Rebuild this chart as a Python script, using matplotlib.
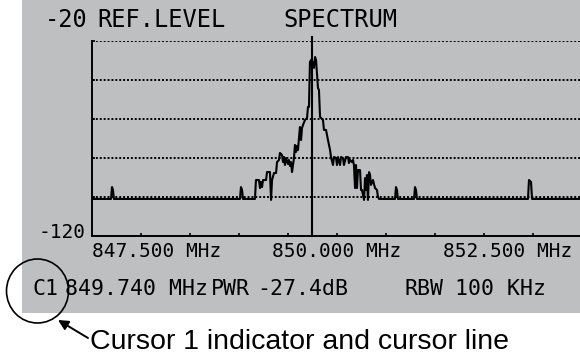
import numpy as np
import matplotlib
matplotlib.use("Agg")
import matplotlib.pyplot as plt
from matplotlib.patches import Rectangle, Ellipse, FancyArrowPatch

# spectrum trace: frequency (MHz) and level (dB), ten points per row
freq = [847.500, 847.694, 847.704, 847.714, 847.724, 849.010, 849.020, 849.031, 849.041, 849.163,
        849.173, 849.204, 849.214, 849.224, 849.235, 849.245, 849.276, 849.286, 849.316, 849.327,
        849.337, 849.357, 849.378, 849.388, 849.408, 849.418, 849.439, 849.449, 849.459, 849.469,
        849.480, 849.500, 849.510, 849.520, 849.531, 849.541, 849.551, 849.561, 849.571, 849.582,
        849.592, 849.602, 849.612, 849.622, 849.633, 849.643, 849.653, 849.673, 849.694, 849.704,
        849.714, 849.724, 849.735, 849.745, 849.755, 849.765, 849.776, 849.786, 849.806, 849.816,
        849.827, 849.857, 849.867, 849.888, 849.908, 849.929, 849.939, 849.959, 849.969, 849.990,
        850.000, 850.010, 850.031, 850.041, 850.061, 850.071, 850.092, 850.112, 850.122, 850.133,
        850.153, 850.163, 850.173, 850.184, 850.194, 850.204, 850.214, 850.235, 850.245, 850.255,
        850.276, 850.286, 850.296, 850.306, 850.316, 850.327, 850.337, 850.347, 850.367, 850.388,
        850.408, 850.418, 850.429, 850.592, 850.602, 850.612, 850.622, 850.786, 850.796, 850.806,
        850.816, 851.949, 851.959, 851.980, 851.990, 852.500]
level = [-101.0, -101.0, -94.9, -96.4, -101.0, -101.0, -94.9, -96.4, -101.0, -101.0,
         -91.3, -91.3, -95.4, -92.3, -94.9, -91.3, -91.3, -87.2, -87.2, -101.5,
         -91.3, -87.7, -87.7, -82.1, -81.0, -77.4, -78.5, -82.1, -79.5, -83.6,
         -80.0, -83.1, -81.0, -84.1, -82.1, -87.2, -83.6, -80.0, -73.3, -76.9,
         -73.8, -75.9, -69.7, -64.1, -70.8, -64.6, -63.1, -60.5, -59.5, -53.8,
         -53.8, -30.8, -29.7, -32.3, -30.8, -33.8, -28.2, -29.7, -44.1, -45.1,
         -59.0, -60.5, -65.6, -65.6, -70.8, -75.9, -79.5, -83.6, -79.5, -80.0,
         -83.6, -79.5, -83.6, -79.5, -80.0, -83.6, -79.5, -79.5, -82.6, -81.0,
         -82.1, -81.0, -83.6, -95.4, -83.6, -95.4, -86.2, -86.2, -96.4, -96.4,
         -101.5, -90.3, -96.4, -88.7, -101.5, -87.2, -88.7, -93.8, -91.3, -95.4,
         -96.4, -100.0, -101.0, -101.0, -94.9, -96.4, -101.0, -101.0, -94.9, -96.4,
         -101.0, -101.0, -91.3, -92.3, -101.0, -101.0]

cursor_freq = 849.740
grid_levels = [-20, -40, -60, -80, -100]
tick_freqs = np.arange(847.5, 852.51, 0.5)

W, H = 580, 364
gray = "#bebfc1"
lcd = "DejaVu Sans Mono"

fig = plt.figure(figsize=(W / 100, H / 100), dpi=100, facecolor="white")

# instrument screen background
fig.patches.append(Rectangle((22 / W, 1 - 313 / H), 1 - 22 / W, 313 / H,
                             transform=fig.transFigure, facecolor=gray,
                             edgecolor="none", zorder=-1))

ax = fig.add_axes([92 / W, 1 - 236 / H, 490 / W, 195 / H])
ax.set_zorder(2)
ax.set_facecolor("none")
ax.set_xlim(847.5, 852.5)
ax.set_ylim(-120, -20)
for s in ["top", "right"]:
    ax.spines[s].set_visible(False)
for s in ["left", "bottom"]:
    ax.spines[s].set_linewidth(1.4)
    ax.spines[s].set_color("black")

for g in grid_levels:
    ax.axhline(g, color="black", lw=1.4, ls=(0, (1, 1)), zorder=1)

ax.set_xticks(tick_freqs)
ax.set_xticklabels([])
ax.set_yticks(grid_levels)
ax.set_yticklabels([])
ax.tick_params(axis="x", direction="in", length=2.5, width=1.2)
ax.tick_params(axis="y", direction="in", length=2.5, width=1.2)

ax.plot(freq, level, color="black", lw=1.5, zorder=3)
ax.plot([cursor_freq, cursor_freq], [-120, -18], color="black", lw=1.5,
        clip_on=False, zorder=4)

# frequency labels under the axis
xt = ax.get_xaxis_transform()
ax.text(847.5, -0.108, "847.500 MHz", transform=xt, ha="left", va="baseline",
        family=lcd, fontsize=14)
ax.text(850.0, -0.108, "850.000 MHz", transform=xt, ha="center", va="baseline",
        family=lcd, fontsize=14)
ax.text(852.4, -0.108, "852.500 MHz", transform=xt, ha="right", va="baseline",
        family=lcd, fontsize=14)

# header and status lines
fig.text(45 / W, 1 - 27 / H, "-20", family=lcd, fontsize=17, va="baseline")
fig.text(97 / W, 1 - 27 / H, "REF.LEVEL", family=lcd, fontsize=17, va="baseline")
fig.text(283 / W, 1 - 27 / H, "SPECTRUM", family=lcd, fontsize=17, va="baseline")
fig.text(86 / W, 1 - 238 / H, "-120", family=lcd, fontsize=14, va="baseline", ha="right")

fig.text(32 / W, 1 - 295 / H, "C1", family=lcd, fontsize=15.5, va="baseline")
fig.text(65 / W, 1 - 295 / H, "849.740 MHz", family=lcd, fontsize=15.5, va="baseline")
fig.text(211 / W, 1 - 295 / H, "PWR", family=lcd, fontsize=15.5, va="baseline")
fig.text(257 / W, 1 - 295 / H, "-27.4dB", family=lcd, fontsize=15.5, va="baseline")
fig.text(405 / W, 1 - 295 / H, "RBW", family=lcd, fontsize=15.5, va="baseline")
fig.text(455 / W, 1 - 295 / H, "100 KHz", family=lcd, fontsize=15.5, va="baseline")

# callout circle, arrow and caption
fig.patches.append(Ellipse((37.5 / W, 1 - 291 / H), 62 / W, 64 / H,
                           transform=fig.transFigure, fill=False,
                           edgecolor="black", lw=1.2, zorder=5))
fig.patches.append(FancyArrowPatch(
    (88 / W, 1 - 338 / H), (58 / W, 1 - 320 / H), transform=fig.transFigure,
    arrowstyle="-|>,head_length=6,head_width=3", color="black", lw=1.4,
    shrinkA=0, shrinkB=0, zorder=5))
fig.text(90 / W, 1 - 349 / H, "Cursor 1 indicator and cursor line",
         family="Liberation Sans", fontsize=20.5, va="baseline")

fig.savefig("out.png", dpi=100, facecolor="white")
